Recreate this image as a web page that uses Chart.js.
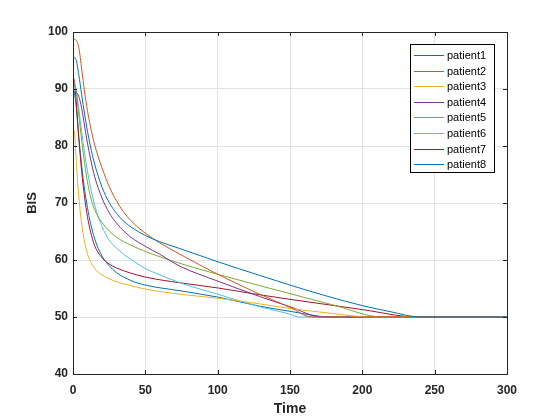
<!DOCTYPE html>
<html>
<head>
<meta charset="utf-8">
<script src="https://cdn.jsdelivr.net/npm/chart.js@4.4.1/dist/chart.umd.min.js"></script>
<style>
  html, body { margin: 0; padding: 0; background: #ffffff; }
  #wrap { width: 560px; height: 420px; }
</style>
</head>
<body>
<div id="wrap"><canvas id="c" width="560" height="420"></canvas></div>
<script>
// ---- data ----
const seriesLabels = ['patient1','patient2','patient3','patient4','patient5','patient6','patient7','patient8'];
const seriesColors = ['#0072BD','#D95319','#EDB120','#7E2F8E','#77AC30','#4DBEEE','#A2142F','#0072BD'];

const p1Time = [0, 2, 4, 6, 8, 10, 12, 15, 20, 25, 30, 35, 40, 50, 60, 74, 100, 129, 150, 175, 200, 220, 240, 300];
const p1BIS  = [95.6, 95.2, 92.5, 89, 85.6, 82.6, 80, 76.8, 72.8, 70.1, 68.2, 66.8, 65.8, 64.3, 63.2, 62.0, 59.7, 57.3, 55.6, 53.7, 52.0, 50.9, 50, 50];

const p2Time = [0, 2, 4, 6, 8, 10, 12, 15, 20, 25, 30, 35, 40, 45, 50, 60, 74, 100, 129, 150, 165, 300];
const p2BIS  = [98.8, 98.6, 97.3, 93.5, 89.5, 86.2, 83.5, 80.2, 76.2, 72.9, 70.4, 68.4, 66.9, 65.7, 64.7, 63.0, 61.0, 57.5, 54.0, 51.7, 50, 50];

const p3Time = [0, 1, 2, 3, 4, 5, 6, 8, 10, 12, 15, 20, 25, 30, 40, 50, 74, 100, 129, 150, 180, 205, 300];
const p3BIS  = [83, 82.3, 78.5, 74.5, 71.2, 68.5, 66.3, 63.2, 61.1, 59.8, 58.5, 57.4, 56.7, 56.2, 55.5, 54.9, 54.0, 53.3, 52.3, 51.5, 50.6, 50, 50];

const p4Time = [0, 2, 4, 6, 8, 10, 12, 15, 20, 25, 30, 35, 40, 50, 60, 74, 100, 129, 150, 172, 300];
const p4BIS  = [89.5, 89.4, 88.7, 86.6, 83.5, 80.5, 77.9, 74.6, 70.9, 68.3, 66.5, 65.1, 64.0, 62.4, 61.0, 58.9, 56.3, 53.6, 51.8, 50, 50];

const p5Time = [0, 2, 4, 6, 8, 10, 12, 15, 20, 25, 30, 40, 50, 74, 100, 129, 150, 180, 214, 300];
const p5BIS  = [91.3, 89.8, 85.5, 81, 77, 73.7, 71.2, 68.8, 66.6, 65.1, 64.0, 62.6, 61.5, 59.4, 57.5, 55.5, 54.1, 52.1, 50, 50];

const p6Time = [0, 2, 4, 6, 8, 10, 12, 15, 20, 25, 30, 35, 40, 50, 60, 74, 100, 129, 150, 156, 300];
const p6BIS  = [91.5, 90.2, 86.5, 82.5, 78.8, 75.6, 72.9, 69.6, 65.9, 63.5, 62.1, 61.0, 60.1, 58.5, 57.4, 56.0, 54.0, 51.8, 50.5, 50, 50];

const p7Time = [0, 1, 2, 4, 6, 8, 10, 12, 15, 20, 25, 30, 40, 50, 74, 100, 129, 150, 200, 238, 300];
const p7BIS  = [92.2, 91.3, 88.5, 81.5, 75.5, 71, 67.6, 65.1, 62.5, 60.4, 59.3, 58.6, 57.7, 57.0, 56.0, 55.1, 53.9, 53.1, 51.3, 50, 50];

const p8Time = [0, 2, 4, 6, 8, 10, 12, 15, 20, 25, 30, 40, 50, 74, 100, 129, 150, 178, 300];
const p8BIS  = [90.5, 87.5, 81.5, 76.5, 72.4, 69.2, 66.6, 63.7, 60.7, 59.0, 57.8, 56.4, 55.6, 54.6, 53.5, 51.9, 51.0, 50, 50];

const xTicks = [0, 50, 100, 150, 200, 250, 300];
const yTicks = [40, 50, 60, 70, 80, 90, 100];
const xTitle = 'Time';
const yTitle = 'BIS';

// ---- build datasets ----
const allTimes = [p1Time, p2Time, p3Time, p4Time, p5Time, p6Time, p7Time, p8Time];
const allBIS   = [p1BIS, p2BIS, p3BIS, p4BIS, p5BIS, p6BIS, p7BIS, p8BIS];
const datasets = seriesLabels.map((lab, i) => ({
  label: lab,
  data: allTimes[i].map((t, k) => ({ x: t, y: allBIS[i][k] })),
  borderColor: seriesColors[i],
  backgroundColor: seriesColors[i],
  borderWidth: 1,
  pointRadius: 0,
  fill: false,
  cubicInterpolationMode: 'monotone'
}));

const axisColor = '#262626';
const tickFont = { family: 'Liberation Sans, Arial, sans-serif', size: 12, weight: 'bold' };

const frame = {
  id: 'frame',
  afterDraw(chart) {
    const { ctx, chartArea: a, scales } = chart;
    ctx.save();
    ctx.strokeStyle = axisColor;
    ctx.lineWidth = 1;
    const tl = 4;
    xTicks.forEach(v => {
      const px = Math.round(scales.x.getPixelForValue(v)) + 0.5;
      ctx.beginPath();
      ctx.moveTo(px, a.bottom); ctx.lineTo(px, a.bottom - tl);
      ctx.moveTo(px, a.top); ctx.lineTo(px, a.top + tl);
      ctx.stroke();
    });
    yTicks.forEach(v => {
      const py = Math.round(scales.y.getPixelForValue(v)) + 0.5;
      ctx.beginPath();
      ctx.moveTo(a.left, py); ctx.lineTo(a.left + tl, py);
      ctx.moveTo(a.right, py); ctx.lineTo(a.right - tl, py);
      ctx.stroke();
    });
    ctx.strokeRect(Math.round(a.left) + 0.5, Math.round(a.top) + 0.5,
                   Math.round(a.right - a.left), Math.round(a.bottom - a.top));
    // legend
    const lx = 410, ly = 44, lw = 84, lh = 128, rowH = 15.6;
    ctx.fillStyle = '#ffffff';
    ctx.fillRect(lx, ly, lw, lh);
    ctx.strokeStyle = '#000000';
    ctx.strokeRect(lx + 0.5, ly + 0.5, lw, lh);
    ctx.font = '11px "Liberation Sans", Arial, sans-serif';
    ctx.textBaseline = 'middle';
    ctx.textAlign = 'left';
    seriesLabels.forEach((lab, i) => {
      const y = Math.round(ly + 11 + i * rowH);
      ctx.fillStyle = seriesColors[i];
      ctx.fillRect(414, y, 30, 1);
      ctx.fillStyle = '#000000';
      ctx.fillText(lab, 447, y + 0.5);
    });
    ctx.restore();
  }
};

new Chart(document.getElementById('c'), {
  type: 'line',
  data: { datasets },
  options: {
    responsive: false,
    animation: false,
    layout: { padding: { left: 0, right: 53, top: 32, bottom: 0 } },
    plugins: { legend: { display: false }, tooltip: { enabled: false } },
    scales: {
      x: {
        type: 'linear', min: 0, max: 300,
        afterBuildTicks: (s) => { s.ticks = xTicks.map(v => ({ value: v })); },
        afterFit: (s) => { s.height = 46; },
        grid: { color: '#e3e3e3', drawTicks: false, lineWidth: 1 },
        border: { display: false },
        ticks: { font: tickFont, color: axisColor, padding: 9, maxRotation: 0 },
        title: { display: true, text: xTitle, color: axisColor,
                 font: { family: 'Liberation Sans, Arial, sans-serif', size: 14, weight: 'bold' },
                 padding: { top: 0, bottom: 2 } }
      },
      y: {
        type: 'linear', min: 40, max: 100,
        afterBuildTicks: (s) => { s.ticks = yTicks.map(v => ({ value: v })); },
        afterFit: (s) => { s.width = 73; },
        grid: { color: '#e3e3e3', drawTicks: false, lineWidth: 1 },
        border: { display: false },
        ticks: { font: tickFont, color: axisColor, padding: 5 },
        title: { display: true, text: yTitle, color: axisColor,
                 font: { family: 'Liberation Sans, Arial, sans-serif', size: 13, weight: 'bold' },
                 padding: { top: 25, bottom: 0 } }
      }
    }
  },
  plugins: [frame]
});
</script>
</body>
</html>
